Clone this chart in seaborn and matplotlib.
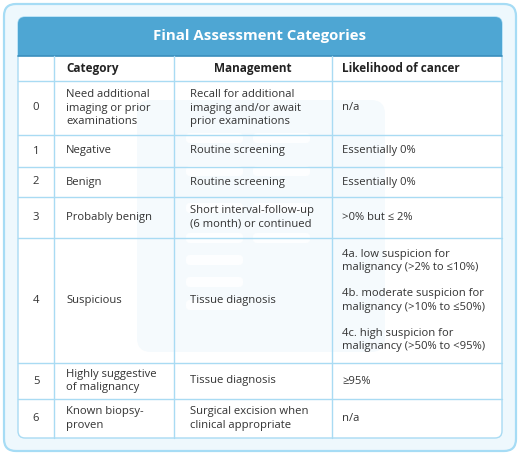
import matplotlib
matplotlib.use("Agg")
import matplotlib.pyplot as plt
from matplotlib.patches import FancyBboxPatch, Rectangle
import seaborn as sns

# table content
title = "Final Assessment Categories"
headers = ["", "Category", "Management", "Likelihood of cancer"]
codes = ["0", "1", "2", "3", "4", "5", "6"]
categories = ["Need additional\nimaging or prior\nexaminations", "Negative", "Benign",
              "Probably benign", "Suspicious", "Highly suggestive\nof malignancy",
              "Known biopsy-\nproven"]
management = ["Recall for additional\nimaging and/or await\nprior examinations",
              "Routine screening", "Routine screening",
              "Short interval-follow-up\n(6 month) or continued",
              "Tissue diagnosis", "Tissue diagnosis",
              "Surgical excision when\nclinical appropriate"]
likelihood = ["n/a", "Essentially 0%", "Essentially 0%", ">0% but \u2264 2%",
              "4a. low suspicion for\nmalignancy (>2% to \u226410%)\n\n"
              "4b. moderate suspicion for\nmalignancy (>10% to \u226450%)\n\n"
              "4c. high suspicion for\nmalignancy (>50% to <95%)",
              "\u226595%", "n/a"]

# layout (pixels)
W, H = 520, 455
col_x = [18, 54, 174, 332, 502]
row_y = [56, 81, 135, 167, 197, 238, 363, 399, 438]
blue = "#4ea6d3"
line = "#a9dbf3"
txt = "#333333"

sns.set_theme(style="white")
plt.rcParams["font.family"] = ["Open Sans", "DejaVu Sans"]

fig = plt.figure(figsize=(W / 100, H / 100), dpi=100)
ax = fig.add_axes([0, 0, 1, 1])
ax.set_xlim(0, W)
ax.set_ylim(H, 0)
ax.axis("off")

# outer card
ax.add_patch(FancyBboxPatch((4, 4), W - 8, H - 8, boxstyle="round,pad=0,rounding_size=12",
                            fc="#eef8fd", ec="#a6dcf5", lw=1.6))
# table body
ax.add_patch(FancyBboxPatch((col_x[0], 17), col_x[-1] - col_x[0], row_y[-1] - 17,
                            boxstyle="round,pad=0,rounding_size=7", fc="white", ec=line, lw=1))
# faint watermark
ax.add_patch(FancyBboxPatch((137, 100), 248, 252, boxstyle="round,pad=0,rounding_size=14",
                            fc="#f5fafd", ec="none"))
for (x0, y0, w0) in [(186, 133, 57), (253, 133, 57), (186, 166, 57), (253, 166, 57),
                     (186, 203, 57), (253, 203, 57), (186, 233, 57), (253, 233, 57),
                     (186, 255, 57), (186, 277, 57), (186, 300, 57)]:
    ax.add_patch(FancyBboxPatch((x0, y0), w0, 10, boxstyle="round,pad=0,rounding_size=4",
                                fc="#fdfeff", ec="none"))

# header bar
ax.add_patch(FancyBboxPatch((col_x[0], 17), col_x[-1] - col_x[0], row_y[0] - 17,
                            boxstyle="round,pad=0,rounding_size=7", fc=blue, ec="none"))
ax.add_patch(Rectangle((col_x[0], 40), col_x[-1] - col_x[0], row_y[0] - 40, fc=blue, ec="none"))
ax.plot([col_x[0], col_x[-1]], [row_y[0], row_y[0]], color="#3a8fbd", lw=1.2)
ax.text((col_x[0] + col_x[-1]) / 2, 36, title, color="white", fontsize=10.8,
        fontweight="bold", ha="center", va="center")

# grid lines
for y in row_y[1:-1]:
    ax.plot([col_x[0], col_x[-1]], [y, y], color=line, lw=1)
for x in col_x[1:-1]:
    ax.plot([x, x], [row_y[0], row_y[-1]], color=line, lw=1)

# header row
hy = (row_y[0] + row_y[1]) / 2
hkw = dict(fontsize=8.5, fontweight="bold", color="#222222", va="center")
ax.text(66, hy, headers[1], **hkw)
ax.text((col_x[2] + col_x[3]) / 2, hy, headers[2], ha="center", **hkw)
ax.text(342, hy, headers[3], **hkw)

# body rows
for i in range(len(codes)):
    cy = (row_y[i + 1] + row_y[i + 2]) / 2
    kw = dict(fontsize=8.1, color=txt, va="center", linespacing=1.28)
    ax.text((col_x[0] + col_x[1]) / 2, cy, codes[i], ha="center", **kw)
    ax.text(66, cy, categories[i], ha="left", **kw)
    ax.text(190, cy, management[i], ha="left", **kw)
    ax.text(342, cy, likelihood[i], ha="left", **kw)

fig.savefig("out.png", dpi=100)
